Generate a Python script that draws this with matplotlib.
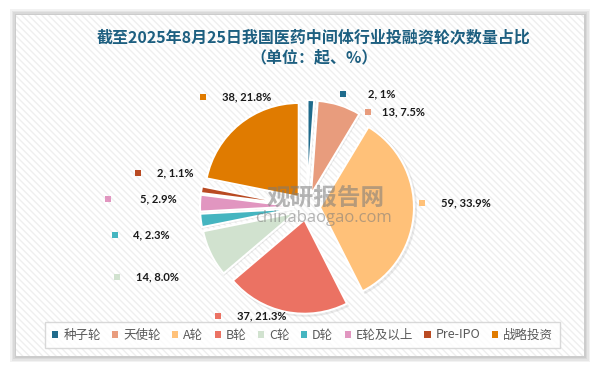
import matplotlib.pyplot as plt
from matplotlib.patches import Rectangle, Wedge

# data
categories = ["种子轮", "天使轮", "A轮", "B轮", "C轮", "D轮", "E轮及以上", "Pre-IPO", "战略投资"]
counts = [2, 13, 59, 37, 14, 4, 5, 2, 38]
shares = ["1%", "7.5%", "33.9%", "21.3%", "8.0%", "2.3%", "2.9%", "1.1%", "21.8%"]

colors = ["#1f6b8c", "#e89c7d", "#ffc179", "#eb7263", "#d1e2cf",
          "#45b5c0", "#e196c0", "#b94a22", "#e07b00"]

# label layout (figure pixels, y measured from top): marker x, text x, y
label_marker_x = [343, 368, 422, 218, 117, 115, 108, 138, 203]
label_text_x = [368, 382, 441, 237, 136, 133, 140, 157, 222]
label_y = [94, 112, 203, 316, 277, 235, 199, 173, 97]

W, H = 595, 369
fig = plt.figure(figsize=(W / 100, H / 100), dpi=100)
fig.patch.set_facecolor("white")
ax = fig.add_axes([0, 0, 1, 1])

# panel with soft shadow and diagonal stripes
for k, a in enumerate([0.05, 0.05, 0.05, 0.06]):
    g = 6 - k * 1.5
    ax.add_patch(Rectangle((16 - g, H - 356 - g), 568 + 2 * g, 341 + 2 * g,
                           facecolor="#000000", edgecolor="none", alpha=a, zorder=0))
ax.add_patch(Rectangle((16, H - 356), 568, 341, facecolor="white",
                       edgecolor="none", zorder=0.5))
ax.add_patch(Rectangle((16, H - 356), 568, 341, facecolor="none",
                       edgecolor="#efefef", hatch="\\\\\\\\\\", linewidth=0, zorder=0.6))

# pie
cx, cy, r = 307, H - 207, 94
wedges, _ = ax.pie(counts, colors=colors, startangle=90, counterclock=False,
                   explode=[13] * len(counts), radius=r, center=(cx, cy),
                   wedgeprops=dict(edgecolor="white", linewidth=1.5))
for w in wedges:
    w.set_zorder(3)
    sh = Wedge((w.center[0] + 1.5, w.center[1] - 1.5), w.r + 1.5, w.theta1, w.theta2,
               facecolor="#000000", edgecolor="none", alpha=0.08, zorder=2)
    ax.add_patch(sh)

# watermark
ax.text(326, H - 198, "观研报告网", fontsize=17, fontweight="bold", color="#7a7a7a",
        alpha=0.55, ha="center", va="center", family="Noto Sans CJK SC", zorder=4)
ax.text(323, H - 218, "chinabaogao.com", fontsize=12, color="#7a7a7a",
        alpha=0.55, ha="center", va="center", family="Open Sans", zorder=4)

# data labels
for i in range(len(counts)):
    ax.scatter(label_marker_x[i], H - label_y[i], marker="s", s=14,
               color=colors[i], zorder=5, linewidths=0)
    ax.text(label_text_x[i], H - label_y[i], f"{counts[i]}, {shares[i]}",
            fontsize=8, fontweight="bold", family=["Lato", "DejaVu Sans"],
            ha="left", va="center", color="#1a1a1a", zorder=5)

ax.set_xlim(0, W)
ax.set_ylim(0, H)
ax.set_aspect("auto")
ax.axis("off")

# title
ax.text(314, H - 37, "截至2025年8月25日我国医药中间体行业投融资轮次数量占比",
        fontsize=11.5, fontweight="bold", color="#1d5f80", ha="center", va="center",
        family="Noto Sans CJK SC")
ax.text(314, H - 57, "（单位：起、%）", fontsize=11.5, fontweight="bold",
        color="#1d5f80", ha="center", va="center", family="Noto Sans CJK SC")

# legend
leg = fig.legend(wedges, categories, loc="center", bbox_to_anchor=(302.5 / W, 1 - 335 / H),
                 ncol=9, frameon=True, fancybox=False, handlelength=0.5, handleheight=0.5,
                 handletextpad=0.4, columnspacing=0.9, borderpad=0.55,
                 prop={"family": "Noto Sans CJK SC", "size": 9})
leg.get_frame().set_edgecolor("#d0d0d0")
leg.get_frame().set_linewidth(1.0)
for t in leg.get_texts():
    t.set_color("#595959")
for h in leg.legend_handles:
    h.set_edgecolor("none")

fig.savefig("out.png", dpi=100)
